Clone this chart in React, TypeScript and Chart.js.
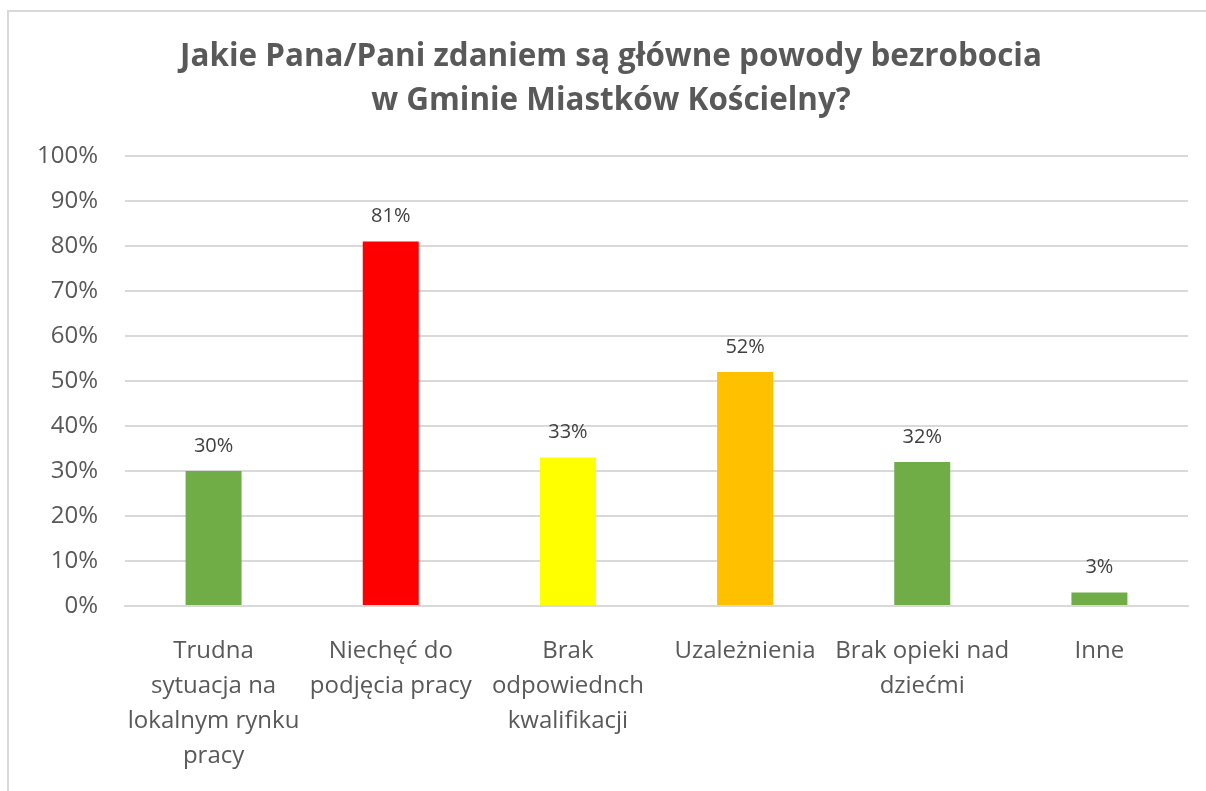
import React, { useEffect, useRef } from "react";
import { Chart, registerables } from "chart.js";

Chart.register(...registerables);

const titleLines = ["Jakie Pana/Pani zdaniem są główne powody bezrobocia", "w Gminie Miastków Kościelny?"];
const categories: string[][] = [
  ["Trudna", "sytuacja na", "lokalnym rynku", "pracy"],
  ["Niechęć do", "podjęcia pracy"],
  ["Brak", "odpowiednch", "kwalifikacji"],
  ["Uzależnienia"],
  ["Brak opieki nad", "dziećmi"],
  ["Inne"],
];
const values = [30, 81, 33, 52, 32, 3];
const barColors = ["#70AD47", "#FF0000", "#FFFF00", "#FFC000", "#70AD47", "#70AD47"];
const yTickStep = 10;
const yMax = 100;

const FONT = "'Open Sans', 'Noto Sans', sans-serif";

const dataLabelPlugin = {
  id: "dataLabels",
  afterDatasetsDraw(chart: any) {
    const ctx = chart.ctx;
    const meta = chart.getDatasetMeta(0);
    ctx.save();
    ctx.font = `20px ${FONT}`;
    ctx.fillStyle = "#404040";
    ctx.textAlign = "center";
    ctx.textBaseline = "middle";
    meta.data.forEach((bar: any, i: number) => {
      ctx.fillText(values[i] + "%", bar.x, bar.y - 25);
    });
    ctx.restore();
  },
};

export default function App() {
  const ref = useRef<HTMLCanvasElement>(null);
  useEffect(() => {
    if (!ref.current) return;
    const chart = new Chart(ref.current, {
      type: "bar",
      data: {
        labels: categories,
        datasets: [
          {
            data: values,
            backgroundColor: barColors,
            barPercentage: 0.316,
            categoryPercentage: 1,
          },
        ],
      },
      options: {
        animation: false,
        responsive: false,
        layout: { padding: { left: 25, right: 18, top: 0, bottom: 0 } },
        plugins: {
          legend: { display: false },
          tooltip: { enabled: false },
          title: {
            display: true,
            text: titleLines,
            color: "#595959",
            font: { family: FONT, size: 31.4, weight: "bold", lineHeight: 1.4 },
            padding: { top: 23, bottom: 33 },
          },
        },
        scales: {
          x: {
            grid: { display: false, drawTicks: false },
            border: { display: true, color: "#d9d9d9", width: 2 },
            ticks: {
              color: "#595959",
              font: { family: FONT, size: 24, lineHeight: 1.46 },
              maxRotation: 0,
              autoSkip: false,
              padding: 28,
            },
            afterFit(scale: any) {
              scale.height = 185;
            },
          },
          y: {
            min: 0,
            max: yMax,
            ticks: {
              stepSize: yTickStep,
              color: "#595959",
              font: { family: FONT, size: 24 },
              padding: 27,
              callback: (v: any) => v + "%",
            },
            grid: { color: "#d9d9d9", lineWidth: 2, drawTicks: false },
            border: { display: false },
            afterFit(scale: any) {
              scale.width = 91;
            },
          },
        },
      },
      plugins: [dataLabelPlugin],
    } as any);
    return () => chart.destroy();
  }, []);

  return (
    <div style={{ position: "fixed", left: 0, top: 0, width: 1206, height: 791, overflow: "hidden", background: "#fff" }}>
      <div
        style={{
          position: "absolute",
          left: 7,
          top: 10,
          width: 1230,
          height: 820,
          border: "2px solid #d9d9d9",
          boxSizing: "border-box",
        }}
      />
      <canvas ref={ref} width={1197} height={779} style={{ position: "absolute", left: 9, top: 12, width: 1197, height: 779 }} />
    </div>
  );
}
